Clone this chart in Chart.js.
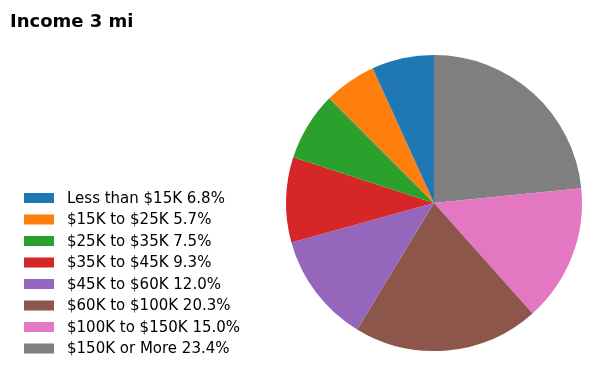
<!DOCTYPE html>
<html>
<head>
<meta charset="utf-8">
<script src="https://cdn.jsdelivr.net/npm/chart.js@4.4.1/dist/chart.umd.min.js"></script>
<style>
  html, body { margin: 0; padding: 0; background: #fff; }
  #wrap { width: 600px; height: 371px; position: relative; }
</style>
</head>
<body>
<div id="wrap"><canvas id="incomeChart"></canvas></div>
<script>
const title = "Income 3 mi";
const categories = ["Less than $15K", "$15K to $25K", "$25K to $35K", "$35K to $45K",
                    "$45K to $60K", "$60K to $100K", "$100K to $150K", "$150K or More"];
const shares = [6.8, 5.7, 7.5, 9.3, 12.0, 20.3, 15.0, 23.4];
const colors = ["#1f77b4", "#ff7f0e", "#2ca02c", "#d62728", "#9467bd", "#8c564b", "#e377c2", "#7f7f7f"];

const legendLabels = categories.map((c, i) => c + " " + shares[i].toFixed(1) + "%");

// matplotlib draws counterclockwise from the top, chart.js clockwise -> reverse the slices
const pieLabels = legendLabels.slice().reverse();
const pieData = shares.slice().reverse();
const pieColors = colors.slice().reverse();

// title + left legend drawn by hand
const sideText = {
    id: "sideText",
    afterDraw(chart) {
        const c = chart.ctx;
        c.save();
        c.fillStyle = "#000";
        c.textBaseline = "middle";
        c.font = "bold 18px 'DejaVu Sans'";
        c.fillText(title, 10, 22);

        c.font = "15px 'DejaVu Sans'";
        for (let i = 0; i < legendLabels.length; i++) {
            let y = 198 + i * 21.5;
            c.fillStyle = colors[i];
            c.fillRect(24, y - 5, 30, 10);
            c.fillStyle = "#000";
            c.fillText(legendLabels[i], 67, y + 1);
        }
        c.restore();
    }
};

const ctx = document.getElementById("incomeChart").getContext("2d");
new Chart(ctx, {
    type: "pie",
    data: {
        labels: pieLabels,
        datasets: [{
            data: pieData,
            backgroundColor: pieColors,
            borderWidth: 0
        }]
    },
    options: {
        responsive: true,
        maintainAspectRatio: false,
        animation: false,
        layout: {
            padding: { left: 286, right: 18, top: 55, bottom: 20 }
        },
        plugins: {
            legend: { display: false },
            tooltip: { enabled: false }
        }
    },
    plugins: [sideText]
});
</script>
</body>
</html>
